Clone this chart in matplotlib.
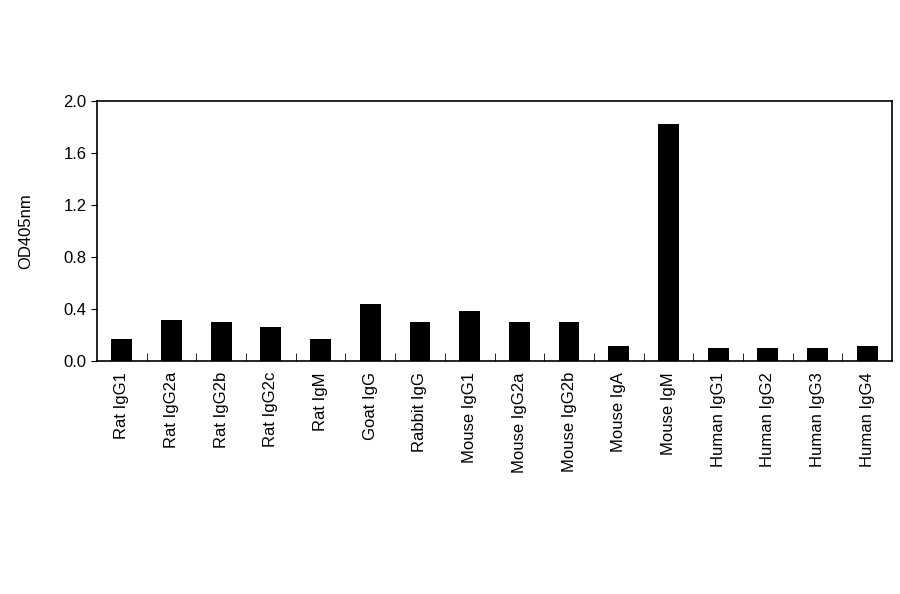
import matplotlib
matplotlib.use("Agg")
import matplotlib.pyplot as plt
import numpy as np

categorias = ["Rat IgG1", "Rat IgG2a", "Rat IgG2b", "Rat IgG2c", "Rat IgM",
              "Goat IgG", "Rabbit IgG", "Mouse IgG1", "Mouse IgG2a", "Mouse IgG2b",
              "Mouse IgA", "Mouse IgM", "Human IgG1", "Human IgG2", "Human IgG3",
              "Human IgG4"]
valores = [0.17, 0.315, 0.30, 0.26, 0.17, 0.44, 0.30, 0.385, 0.30, 0.30,
           0.115, 1.82, 0.10, 0.10, 0.10, 0.115]
y_ticks = [0.0, 0.4, 0.8, 1.2, 1.6, 2.0]

plt.rcParams["font.family"] = ["Liberation Sans", "DejaVu Sans"]
fig = plt.figure(figsize=(9, 5.94), dpi=100)
ax = fig.add_axes([97 / 900, 1 - 361 / 594, 795 / 900, 260 / 594])

x = np.arange(len(categorias))
ax.bar(x, valores, width=0.42, color="black")

ax.set_xlim(-0.5, len(categorias) - 0.5)
ax.set_ylim(0, 2.0)
ax.set_yticks(y_ticks)
ax.set_yticklabels([f"{v:.1f}" for v in y_ticks], fontsize=12)
ax.set_ylabel("OD405nm", fontsize=12, labelpad=22)

# etiquetas de categoría sin marca, marcas entre barras
ax.set_xticks(x)
ax.set_xticklabels(categorias, rotation=90, fontsize=12)
ax.tick_params(axis="x", length=0, pad=8)
ax.set_xticks(x[:-1] + 0.5, minor=True)
ax.tick_params(axis="x", which="minor", direction="in", length=6)
ax.tick_params(axis="y", direction="out", length=4)

for s in ax.spines.values():
    s.set_linewidth(1.2)

plt.savefig("out.png")
plt.close()
